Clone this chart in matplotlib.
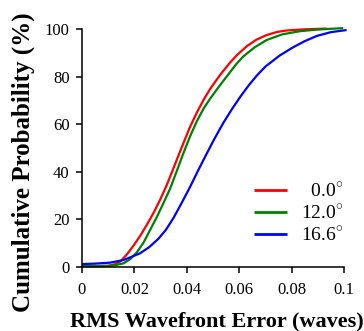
import matplotlib
matplotlib.use("Agg")
import matplotlib.pyplot as plt

labels = ["  0.0$^{\\circ}$", "12.0$^{\\circ}$", "16.6$^{\\circ}$"]
colors = ["#ff0000", "#008000", "#0000ff"]

red_x = [0, 0.005, 0.010, 0.0125, 0.0145, 0.0170, 0.0196, 0.0222, 0.0247, 0.0272, 0.0298, 0.0323,
         0.0348, 0.0374, 0.040, 0.0412, 0.0438, 0.0465, 0.0489, 0.0525, 0.0565, 0.059,
         0.0629, 0.0665, 0.0705, 0.0745, 0.0781, 0.085, 0.0934]
red_y = [0.3, 0.3, 0.4, 1.0, 2.1, 5.0, 8.8, 13.0, 17.6, 22.5, 28.2, 34.3,
         41.2, 48.5, 55.6, 58.8, 64.9, 70.5, 74.9, 80.5, 86.0, 89.0,
         92.9, 95.6, 97.6, 98.9, 99.5, 100.0, 100.3]

green_x = [0, 0.005, 0.010, 0.013, 0.0158, 0.0184, 0.0209, 0.0235, 0.026, 0.0285, 0.031, 0.0336,
           0.036, 0.0387, 0.0412, 0.0438, 0.0463, 0.0489, 0.0527, 0.059, 0.0616, 0.066,
           0.0705, 0.0765, 0.0832, 0.09, 0.0997]
green_y = [0.2, 0.2, 0.3, 0.7, 1.4, 3.2, 6.0, 10.2, 15.5, 20.8, 26.6, 32.8,
           39.8, 47.8, 54.8, 61.2, 66.4, 70.8, 76.5, 85.5, 88.6, 92.5,
           95.5, 97.9, 99.2, 99.9, 100.5]

blue_x = [0, 0.005, 0.0107, 0.0158, 0.0221, 0.0256, 0.0291, 0.032, 0.0349, 0.038, 0.0412, 0.0443,
          0.0473, 0.0505, 0.0539, 0.057, 0.0603, 0.0635, 0.0667, 0.070, 0.0755, 0.0807, 0.085,
          0.0896, 0.095, 0.101]
blue_y = [1.1, 1.3, 1.7, 2.8, 5.6, 8.2, 11.7, 15.5, 20.5, 26.8, 33.5, 40.5,
          47, 53.8, 60.5, 66.0, 71.4, 76.2, 80.5, 84.3, 89.0, 92.5, 95.0,
          97.2, 98.8, 99.7]

xticks = [0, 0.02, 0.04, 0.06, 0.08, 0.1]
xticklabels = ["0", "0.02", "0.04", "0.06", "0.08", "0.1"]
yticks = [0, 20, 40, 60, 80, 100]

plt.rcParams["font.family"] = ["Liberation Serif", "DejaVu Serif"]
plt.rcParams["mathtext.fontset"] = "custom"
plt.rcParams["mathtext.rm"] = "Liberation Serif"

W, H = 364, 331
fig = plt.figure(figsize=(W / 100, H / 100), dpi=100)
ax = fig.add_axes([82 / W, 1 - 266.7 / H, 262 / W, (266.7 - 29.3) / H])

for xs, ys, c, lab in zip([red_x, green_x, blue_x], [red_y, green_y, blue_y], colors, labels):
    ax.plot(xs, ys, color=c, lw=1.6, label=lab, clip_on=False, solid_capstyle="butt")

ax.set_xlim(0, 0.1)
ax.set_ylim(0, 100)
ax.set_xticks(xticks)
ax.set_xticklabels(xticklabels)
ax.set_yticks(yticks)
ax.tick_params(direction="out", length=4, width=1.1, labelsize=12, colors="black")
ax.tick_params(axis="y", pad=5)
ax.tick_params(axis="x", pad=7)
for s in ["top", "right"]:
    ax.spines[s].set_visible(False)
for s in ["left", "bottom"]:
    ax.spines[s].set_linewidth(1.1)

fig.text(217 / W, 1 - 326 / H, "RMS Wavefront Error (waves)", fontsize=16, fontweight="bold",
         ha="center", va="baseline")
fig.text(23 / W, 1 - 162.5 / H, "Cumulative Probability (%)", fontsize=18, fontweight="bold",
         ha="center", va="center", rotation=90)

leg = ax.legend(loc="center left", bbox_to_anchor=(254 / W, 1 - 213 / H),
                bbox_transform=fig.transFigure, frameon=False, fontsize=14,
                handlelength=1.7, labelspacing=0.15, handletextpad=0.7,
                borderpad=0, borderaxespad=0)
for line in leg.get_lines():
    line.set_linewidth(2.0)

fig.savefig("out.png", dpi=100)
